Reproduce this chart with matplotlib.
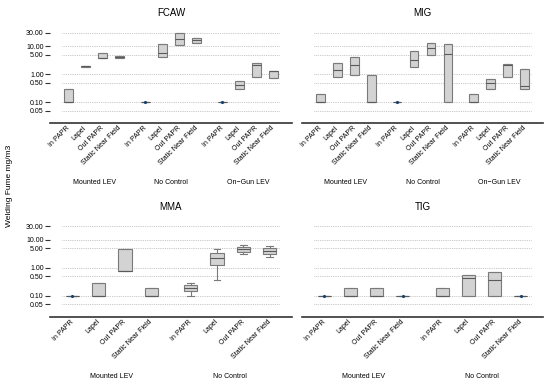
import matplotlib
matplotlib.use("Agg")
import matplotlib.pyplot as plt
from matplotlib.ticker import FixedLocator, FixedFormatter, NullLocator

plt.rcParams['font.family'] = ['Liberation Sans', 'DejaVu Sans']

# ---------------- data ----------------
locations = ["In PAPR", "Lapel", "Out PAPR", "Static Near Field"]
controls_fcaw_mig = ["Mounted LEV", "No Control", "On\u2212Gun LEV"]
controls_mma_tig = ["Mounted LEV", "No Control"]
y_ticks = [0.05, 0.1, 0.5, 1, 5, 10, 30]
y_tick_labels = ["0.05", "0.10", "0.50", "1.00", "5.00", "10.00", "30.00"]

# (whisker low, q1, median, q3, whisker high) per control group x location
fcaw_stats = [
    (0.1, 0.1, 0.1, 0.29, 0.29),
    (1.85, 1.85, 1.93, 2.0, 2.0),
    (3.7, 3.7, 3.8, 5.6, 5.6),
    (3.8, 3.8, 4.2, 4.6, 4.6),
    (0.1, 0.1, 0.1, 0.1, 0.1),
    (4.05, 4.05, 5.9, 11.8, 11.8),
    (11.2, 11.2, 18.3, 29.0, 29.0),
    (13.1, 13.1, 15.9, 18.8, 18.8),
    (0.1, 0.1, 0.1, 0.1, 0.1),
    (0.30, 0.30, 0.40, 0.58, 0.58),
    (0.80, 0.80, 2.15, 2.4, 2.4),
    (0.72, 0.72, 1.28, 1.3, 1.3),
]
mig_stats = [
    (0.1, 0.1, 0.1, 0.2, 0.2),
    (0.78, 0.78, 1.43, 2.6, 2.6),
    (0.9, 0.9, 2.15, 4.05, 4.05),
    (0.1, 0.1, 0.1, 0.9, 0.9),
    (0.1, 0.1, 0.1, 0.1, 0.1),
    (1.73, 1.73, 3.16, 6.6, 6.6),
    (4.64, 4.64, 8.5, 12.8, 12.8),
    (0.1, 0.1, 5.2, 11.8, 11.8),
    (0.1, 0.1, 0.1, 0.2, 0.2),
    (0.30, 0.30, 0.48, 0.68, 0.68),
    (0.78, 0.78, 2.2, 2.35, 2.35),
    (0.30, 0.30, 0.37, 1.59, 1.59),
]
mma_stats = [
    (0.1, 0.1, 0.1, 0.1, 0.1),
    (0.1, 0.1, 0.1, 0.29, 0.29),
    (0.74, 0.74, 0.76, 4.6, 4.6),
    (0.1, 0.1, 0.1, 0.19, 0.19),
    (0.097, 0.15, 0.19, 0.24, 0.29),
    (0.38, 1.24, 2.15, 3.43, 4.64),
    (3.0, 3.73, 4.64, 5.6, 6.6),
    (2.47, 3.16, 3.93, 4.9, 5.95),
]
tig_stats = [
    (0.1, 0.1, 0.1, 0.1, 0.1),
    (0.1, 0.1, 0.1, 0.19, 0.19),
    (0.1, 0.1, 0.1, 0.19, 0.19),
    (0.1, 0.1, 0.1, 0.1, 0.1),
    (0.1, 0.1, 0.1, 0.19, 0.19),
    (0.1, 0.1, 0.42, 0.56, 0.56),
    (0.1, 0.1, 0.38, 0.68, 0.68),
    (0.1, 0.1, 0.1, 0.1, 0.1),
]

# ---------------- style ----------------
BOX_FACE = "#d3d3d3"
BOX_EDGE = "#7a7a7a"
MED_COLOR = "#5a5a5a"
DOT = "#14406e"
GRID = "#b5b5b5"
SMALL = 5
W, H = 550, 387

fig = plt.figure(figsize=(5.5, 3.87), dpi=100)

def frac_rect(x0, x1, y_top, y_bot):
    return [x0 / W, 1 - y_bot / H, (x1 - x0) / W, (y_bot - y_top) / H]

def draw_panel(rect, title, stats, controls, show_y):
    ax = fig.add_axes(rect)
    ax.set_yscale('log')
    n_loc = len(locations)
    positions = [g * (n_loc + 0.5) + i for g in range(len(controls)) for i in range(n_loc)]
    bstats = [dict(whislo=s[0], q1=s[1], med=s[2], q3=s[3], whishi=s[4], fliers=[]) for s in stats]
    ax.bxp(bstats, positions=positions, widths=0.5, patch_artist=True, showfliers=False,
           capwidths=0.25, manage_ticks=False,
           boxprops=dict(facecolor=BOX_FACE, edgecolor=BOX_EDGE, linewidth=0.8),
           medianprops=dict(color=MED_COLOR, linewidth=0.8),
           whiskerprops=dict(color=BOX_EDGE, linewidth=0.8),
           capprops=dict(color=BOX_EDGE, linewidth=0.8))
    single = [(p, s[2]) for p, s in zip(positions, stats) if s[1] == s[3]]
    ax.scatter([p for p, _ in single], [v for _, v in single], s=5, color=DOT, zorder=5,
               linewidths=0)
    for yv in y_ticks:
        ax.axhline(yv, xmin=0.05, xmax=0.95, color=GRID, lw=0.6, ls=(0, (1, 1.2)), zorder=0)
    ax.set_ylim(0.018, 83)
    pad = 1.08 if len(positions) > 8 else 0.85
    ax.set_xlim(positions[0] - pad, positions[-1] + pad)
    ax.set_xticks(positions)
    ax.set_xticklabels(locations * len(controls), rotation=45, ha='right', va='center',
                       rotation_mode='anchor', fontsize=SMALL)
    ax.tick_params(axis='x', length=0, pad=3)
    ax.yaxis.set_major_locator(FixedLocator(y_ticks))
    ax.yaxis.set_major_formatter(FixedFormatter(y_tick_labels))
    ax.yaxis.set_minor_locator(NullLocator())
    if show_y:
        ax.tick_params(axis='y', length=3.5, width=0.8, labelsize=SMALL, pad=1, color='#333333')
    else:
        ax.tick_params(axis='y', left=False, labelleft=False)
    for sp in ('top', 'right', 'left'):
        ax.spines[sp].set_visible(False)
    ax.spines['bottom'].set_color('#333333')
    ax.spines['bottom'].set_linewidth(1.2)
    ax.set_title(title, fontsize=7, pad=3)
    for g, ctrl in enumerate(controls):
        center = g * (n_loc + 0.5) + (n_loc - 1) / 2
        ax.annotate(ctrl, xy=(center, 0), xycoords=('data', 'axes fraction'),
                    xytext=(0, -60 * 72 / 100), textcoords='offset points',
                    ha='center', va='center', fontsize=SMALL)
    return ax

draw_panel(frac_rect(50, 292, 20.4, 123), "FCAW", fcaw_stats, controls_fcaw_mig, True)
draw_panel(frac_rect(302, 543, 20.4, 123), "MIG", mig_stats, controls_fcaw_mig, False)
draw_panel(frac_rect(50, 292, 214, 316.6), "MMA", mma_stats, controls_mma_tig, True)
draw_panel(frac_rect(302, 543, 214, 316.6), "TIG", tig_stats, controls_mma_tig, False)

fig.text(10 / W, 1 - 186 / H, "Welding Fume mg/m3", rotation=90, va='center', ha='center',
         fontsize=6)

fig.savefig("out.png", dpi=100)
